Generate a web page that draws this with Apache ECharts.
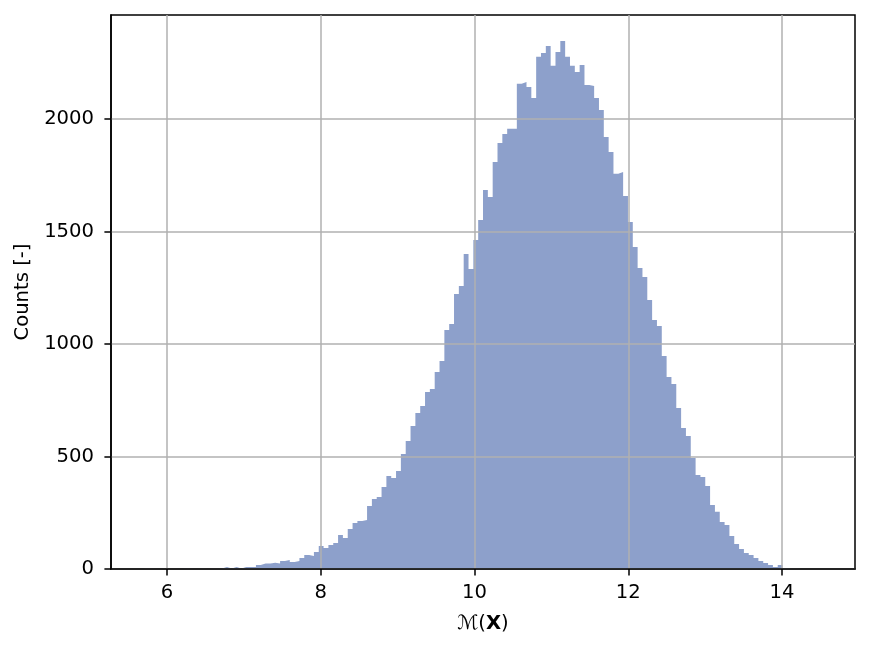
<!DOCTYPE html>
<html>
<head>
<meta charset="utf-8">
<script src="https://cdn.jsdelivr.net/npm/echarts@6/dist/echarts.min.js"></script>
<style>
html,body{margin:0;padding:0;background:#fff;}
#chart{width:869px;height:650px;}
</style>
</head>
<body>
<div id="chart"></div>
<script>
// Histogram: 140 equal bins starting at binStart with width binWidth
var binStart = 5.71;
var binWidth = 0.06286;
var counts = [
  1,0,0,0,0,0,0,0,1,0,0,1,0,1,1,2,
  9,2,9,2,9,9,9,18,24,24,28,24,36,40,31,36,49,62,58,76,
  102,93,107,116,151,138,178,204,213,218,280,311,320,364,413,404,436,
  511,569,636,693,724,787,800,876,924,1062,1089,1222,1258,1400,1333,
  1462,1551,1684,1653,1809,1893,1933,1956,1956,2156,2164,2142,2093,
  2276,2293,2324,2236,2298,2347,2276,2236,2209,2240,2151,2147,2093,
  2040,1920,1853,1756,1764,1658,1542,1431,1338,1298,1196,1107,1080,
  947,853,822,716,627,591,493,418,409,369,284,254,209,196,147,111,
  89,71,62,49,36,27,18,9,18,
  3,1,1,0,0,0,0,1
];
var xTicks = [6, 8, 10, 12, 14];
var yTicks = [0, 500, 1000, 1500, 2000];

// step outline: each bin's left edge with its count, closed at the last right edge
var stepData = counts.map(function (c, i) {
  return [binStart + i * binWidth, c];
});
stepData.push([binStart + counts.length * binWidth, 0]);

var FONT = 'DejaVu Sans';
var FS = 19.6;
var BAR = '#8da0cb';
var chart = echarts.init(document.getElementById('chart'), null, {renderer: 'canvas'});
chart.setOption({
  animation: false,
  backgroundColor: '#ffffff',
  grid: {
    left: 111, right: 14, top: 15, bottom: 81,
    show: true, borderColor: '#000000', borderWidth: 1.5,
    backgroundColor: 'transparent'
  },
  xAxis: {
    type: 'value',
    min: 5.27, max: 14.95,
    z: 3,
    name: '{m|ℳ}({b|X})',
    nameLocation: 'middle',
    nameGap: 45,
    nameTextStyle: {
      fontFamily: FONT, fontSize: FS, color: '#000',
      rich: {
        m: {fontFamily: FONT, fontSize: FS, color: '#000', fontStyle: 'italic'},
        b: {fontFamily: FONT, fontSize: FS, color: '#000', fontWeight: 'bold'}
      }
    },
    axisLine: {show: true, lineStyle: {color: '#000', width: 1.5}},
    axisTick: {show: true, length: 6.6, inside: false, customValues: xTicks,
               lineStyle: {color: '#000', width: 1.5}},
    axisLabel: {show: true, margin: 14, customValues: xTicks,
                fontFamily: FONT, fontSize: FS, color: '#000',
                formatter: function (v) { return String(v); }},
    splitLine: {show: true, lineStyle: {color: '#b0b0b0', width: 1.5}}
  },
  yAxis: {
    type: 'value',
    min: 0, max: 2462,
    z: 3,
    name: 'Counts [-]',
    nameLocation: 'middle',
    nameGap: 77,
    nameTextStyle: {fontFamily: FONT, fontSize: FS, color: '#000'},
    axisLine: {show: true, lineStyle: {color: '#000', width: 1.5}},
    axisTick: {show: true, length: 6.6, inside: false, customValues: yTicks,
               lineStyle: {color: '#000', width: 1.5}},
    axisLabel: {show: true, margin: 17, customValues: yTicks,
                fontFamily: FONT, fontSize: FS, color: '#000',
                formatter: function (v) { return String(v); }},
    splitLine: {show: true, lineStyle: {color: '#b0b0b0', width: 1.5}}
  },
  series: [{
    type: 'line',
    z: 2,
    step: 'end',
    data: stepData,
    symbol: 'none',
    showSymbol: false,
    lineStyle: {width: 0, color: BAR, opacity: 0},
    areaStyle: {color: BAR, opacity: 1, origin: 'start'},
    silent: true
  }]
});
</script>
</body>
</html>
